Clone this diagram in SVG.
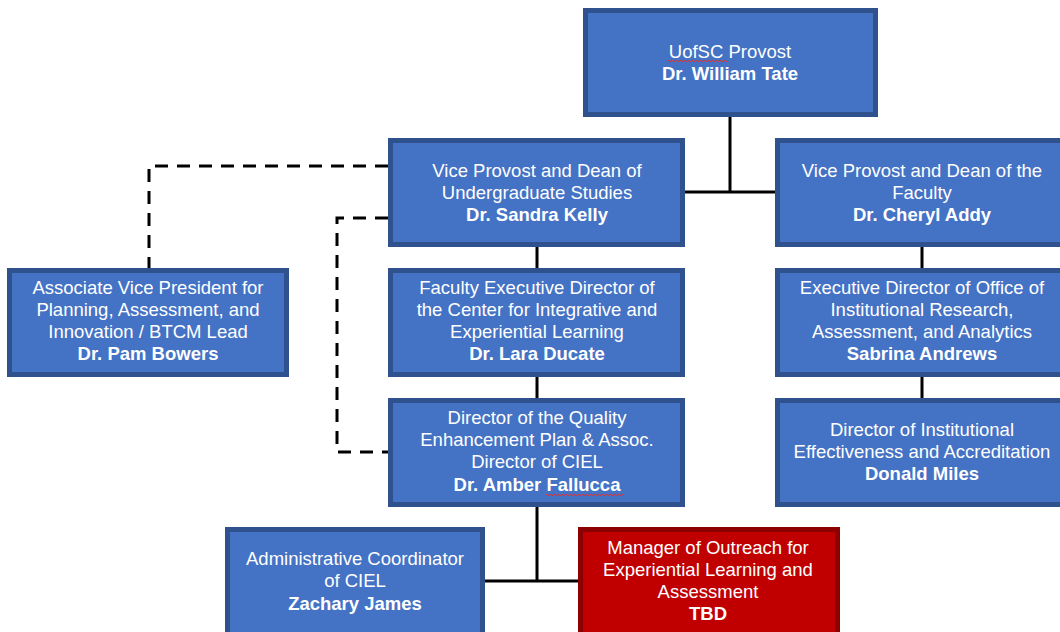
<svg xmlns="http://www.w3.org/2000/svg" width="1060" height="632" viewBox="0 0 1060 632">
<style>
.box{fill:#4472C4;stroke:#2F528F;stroke-width:5}
.red{fill:#C00000;stroke:#8C0000;stroke-width:5}
.t{font-family:"Liberation Sans",Arial,sans-serif;font-size:18.5px;fill:#FFFFFF;text-anchor:middle}
.b{font-weight:bold}
.ln{stroke:#000;stroke-width:3;fill:none}
.dash{stroke:#000;stroke-width:3;fill:none;stroke-dasharray:13 9}
.sq{stroke:#E03030;stroke-width:1;fill:none}
</style>
<rect width="1060" height="632" fill="#FFFFFF"/>
<g id="connectors">
<path class="ln" d="M730 117V192M683 192H777"/>
<path class="ln" d="M537 247V268M537 377V398"/>
<path class="ln" d="M922 247V268M922 377V398"/>
<path class="ln" d="M537 507V581M485 581H578"/>
<path class="dash" d="M388 166H149V268"/>
<path class="dash" d="M388 218H337V452H388"/>
</g>
<g id="provost">
<rect class="box" x="585.5" y="10.5" width="290" height="104"/>
<text class="t" x="730" y="58">UofSC Provost</text>
<text class="t b" x="730" y="80">Dr. William Tate</text>
<path class="sq" d="M668 60l2 2 2-2 2 2 2-2 2 2 2-2 2 2 2-2 2 2 2-2 2 2 2-2 2 2 2-2 2 2 2-2 2 2 2-2 2 2 2-2 2 2 2-2 2 2 2-2 2 2 2-2 2 2 2-2 2 2 2-2"/>
</g>
<g id="kelly">
<rect class="box" x="390.5" y="140.5" width="292" height="104"/>
<text class="t" x="537" y="177">Vice Provost and Dean of</text>
<text class="t" x="537" y="199">Undergraduate Studies</text>
<text class="t b" x="537" y="221">Dr. Sandra Kelly</text>
</g>
<g id="addy">
<rect class="box" x="777.5" y="140.5" width="290" height="104"/>
<text class="t" x="922" y="177">Vice Provost and Dean of the</text>
<text class="t" x="922" y="199">Faculty</text>
<text class="t b" x="922" y="221">Dr. Cheryl Addy</text>
</g>
<g id="bowers">
<rect class="box" x="9.5" y="270.5" width="277" height="104"/>
<text class="t" x="148" y="294">Associate Vice President for</text>
<text class="t" x="148" y="316">Planning, Assessment, and</text>
<text class="t" x="148" y="338">Innovation / BTCM Lead</text>
<text class="t b" x="148" y="360">Dr. Pam Bowers</text>
</g>
<g id="ducate">
<rect class="box" x="390.5" y="270.5" width="292" height="104"/>
<text class="t" x="537" y="294">Faculty Executive Director of</text>
<text class="t" x="537" y="316">the Center for Integrative and</text>
<text class="t" x="537" y="338">Experiential Learning</text>
<text class="t b" x="537" y="360">Dr. Lara Ducate</text>
</g>
<g id="andrews">
<rect class="box" x="777.5" y="270.5" width="290" height="104"/>
<text class="t" x="922" y="294">Executive Director of Office of</text>
<text class="t" x="922" y="316">Institutional Research,</text>
<text class="t" x="922" y="338">Assessment, and Analytics</text>
<text class="t b" x="922" y="360">Sabrina Andrews</text>
</g>
<g id="fallucca">
<rect class="box" x="390.5" y="400.5" width="292" height="104"/>
<text class="t" x="537" y="424">Director of the Quality</text>
<text class="t" x="537" y="446">Enhancement Plan &amp; Assoc.</text>
<text class="t" x="537" y="468">Director of CIEL</text>
<text class="t b" x="537" y="491">Dr. Amber Fallucca</text>
<path class="sq" d="M546 494l2 2 2-2 2 2 2-2 2 2 2-2 2 2 2-2 2 2 2-2 2 2 2-2 2 2 2-2 2 2 2-2 2 2 2-2 2 2 2-2 2 2 2-2 2 2 2-2 2 2 2-2 2 2 2-2 2 2 2-2 2 2 2-2 2 2 2-2 2 2 2-2 2 2 2-2 2 2"/>
</g>
<g id="miles">
<rect class="box" x="777.5" y="400.5" width="290" height="104"/>
<text class="t" x="922" y="436">Director of Institutional</text>
<text class="t" x="922" y="458">Effectiveness and Accreditation</text>
<text class="t b" x="922" y="480">Donald Miles</text>
</g>
<g id="james">
<rect class="box" x="227.5" y="529.5" width="255" height="110"/>
<text class="t" x="355" y="565">Administrative Coordinator</text>
<text class="t" x="355" y="587">of CIEL</text>
<text class="t b" x="355" y="610">Zachary James</text>
</g>
<g id="tbd">
<rect class="red" x="580.5" y="529.5" width="257" height="110"/>
<text class="t" x="708" y="554">Manager of Outreach for</text>
<text class="t" x="708" y="576">Experiential Learning and</text>
<text class="t" x="708" y="598">Assessment</text>
<text class="t b" x="708" y="620">TBD</text>
</g>
</svg>
